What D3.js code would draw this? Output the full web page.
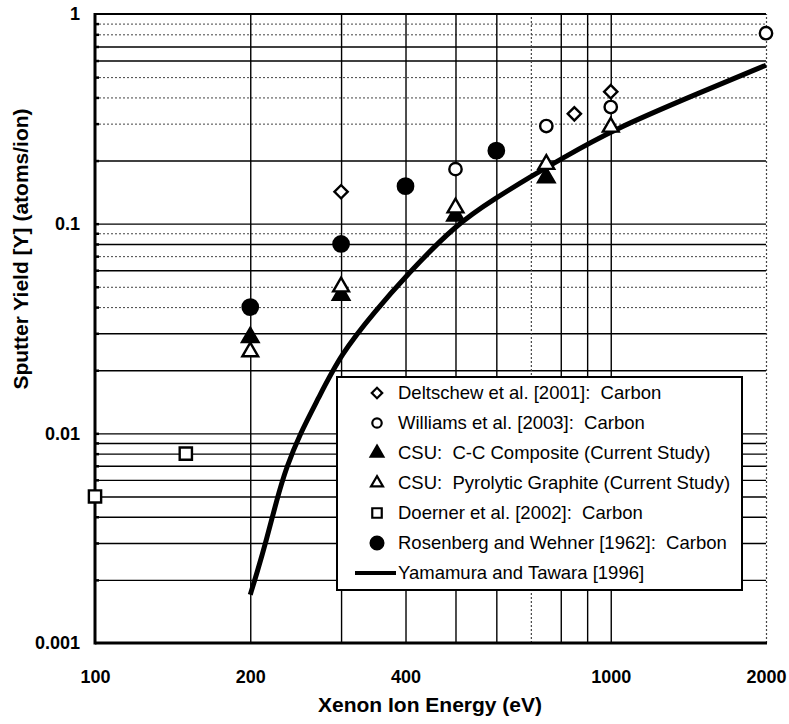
<!DOCTYPE html>
<html>
<head>
<meta charset="utf-8">
<script src="https://cdn.jsdelivr.net/npm/d3@7"></script>
<style>
  body { margin: 0; background: #fff; }
  svg { display: block; }
  text { font-family: Arial, "Liberation Sans", sans-serif; fill: #000; }
</style>
</head>
<body>
<svg id="chart"></svg>
<script>
// ---- data ----
const deltschewE = [300, 850, 1000];
const deltschewY = [0.142, 0.334, 0.426];
const williamsE = [500, 750, 1000, 2000];
const williamsY = [0.182, 0.292, 0.36, 0.81];
const csuCompositeE = [200, 300, 500, 750];
const csuCompositeY = [0.0287, 0.0457, 0.109, 0.166];
const csuGraphiteE = [200, 300, 500, 750, 1000];
const csuGraphiteY = [0.0245, 0.050, 0.119, 0.192, 0.289];
const doernerE = [100, 150];
const doernerY = [0.005, 0.008];
const rosenbergE = [200, 300, 400, 600];
const rosenbergY = [0.040, 0.080, 0.151, 0.223];
const yamamuraE = [200, 206, 215, 225, 235, 250, 270, 300, 350, 400, 500, 600, 700, 800, 1000, 1500, 2000];
const yamamuraY = [0.0017, 0.00215, 0.0031, 0.0048, 0.0069, 0.0100, 0.0144, 0.0240, 0.0385, 0.056, 0.099, 0.133, 0.168, 0.203, 0.278, 0.425, 0.57];

const xTickLabels = [100, 200, 400, 1000, 2000];
const yTickLabels = [0.001, 0.01, 0.1, 1];
const xGrid = [200, 300, 400, 500, 600, 700, 800, 900, 1000, 2000];
const xGridDotted = [700, 2000];
const yGrid = [0.002, 0.003, 0.004, 0.005, 0.006, 0.007, 0.008, 0.009, 0.01,
               0.02, 0.03, 0.04, 0.05, 0.06, 0.07, 0.08, 0.09, 0.1,
               0.2, 0.3, 0.4, 0.5, 0.6, 0.7, 0.8, 0.9];
const yGridDotted = [0.09, 0.07, 0.05, 0.04, 0.9, 0.8, 0.5, 0.4, 0.3];

const legendLabels = [
  "Deltschew et al. [2001]:  Carbon",
  "Williams et al. [2003]:  Carbon",
  "CSU:  C-C Composite (Current Study)",
  "CSU:  Pyrolytic Graphite (Current Study)",
  "Doerner et al. [2002]:  Carbon",
  "Rosenberg and Wehner [1962]:  Carbon",
  "Yamamura and Tawara [1996]"
];

// ---- layout ----
const width = 789, height = 724;
const x0 = 95, x1 = 766, y0 = 643, y1 = 14;

const svg = d3.select('#chart').attr('width', width).attr('height', height);
svg.append('rect').attr('width', width).attr('height', height).attr('fill', '#fff');

const x = d3.scaleLog().domain([100, 2000]).range([x0, x1]);
const y = d3.scaleLog().domain([0.001, 1]).range([y0, y1]);

// gridlines
function gridY(values, dotted) {
  const g = svg.append('g').attr('transform', `translate(${x0},0)`)
    .call(d3.axisLeft(y).tickValues(values).tickSize(-(x1 - x0)).tickFormat(''));
  g.select('.domain').remove();
  g.selectAll('line')
    .attr('stroke', dotted ? '#444' : '#000')
    .attr('stroke-width', dotted ? 1 : 1.4)
    .attr('stroke-dasharray', dotted ? '2,2' : null);
}
function gridX(values, dotted) {
  const g = svg.append('g').attr('transform', `translate(0,${y0})`)
    .call(d3.axisBottom(x).tickValues(values).tickSize(-(y0 - y1)).tickFormat(''));
  g.select('.domain').remove();
  g.selectAll('line')
    .attr('stroke', dotted ? '#444' : '#000')
    .attr('stroke-width', dotted ? 1.2 : 1.4)
    .attr('stroke-dasharray', dotted ? '2,2' : null);
}
gridY(yGrid.filter(v => !yGridDotted.includes(v)), false);
gridY(yGridDotted, true);
gridX(xGrid.filter(v => !xGridDotted.includes(v)), false);
gridX(xGridDotted, true);

// small inside ticks on the left spine
const tk = svg.append('g').attr('transform', `translate(${x0},0)`)
  .call(d3.axisRight(y).tickValues(yGrid).tickSize(4).tickFormat(''));
tk.select('.domain').remove();
tk.selectAll('line').attr('stroke', '#000').attr('stroke-width', 2.5);

// frame
svg.append('line').attr('x1', x0).attr('x2', x1).attr('y1', y1).attr('y2', y1)
  .attr('stroke', '#000').attr('stroke-width', 2.2);
svg.append('line').attr('x1', x0).attr('x2', x1 + 1).attr('y1', y0).attr('y2', y0)
  .attr('stroke', '#000').attr('stroke-width', 3);
svg.append('line').attr('x1', x0).attr('x2', x0).attr('y1', y1 - 1).attr('y2', y0 + 1.5)
  .attr('stroke', '#000').attr('stroke-width', 3);

// tick labels
const yAxis = svg.append('g').attr('transform', `translate(${x0},0)`)
  .call(d3.axisLeft(y).tickValues(yTickLabels).tickSize(0).tickPadding(15).tickFormat(d => String(d)));
yAxis.select('.domain').remove();
yAxis.selectAll('text').attr('font-size', 18).attr('font-weight', 'bold')
  .attr('font-family', 'Arial, "Liberation Sans", sans-serif');

const xAxis = svg.append('g').attr('transform', `translate(0,${y0})`)
  .call(d3.axisBottom(x).tickValues(xTickLabels).tickSize(0).tickPadding(27).tickFormat(d => String(d)));
xAxis.select('.domain').remove();
xAxis.selectAll('text').attr('font-size', 18).attr('font-weight', 'bold')
  .attr('font-family', 'Arial, "Liberation Sans", sans-serif');

// axis titles
svg.append('text').attr('x', 430).attr('y', 712).attr('text-anchor', 'middle')
  .attr('font-size', 21).attr('font-weight', 'bold').text('Xenon Ion Energy (eV)');
svg.append('text').attr('transform', 'translate(28,249) rotate(-90)').attr('text-anchor', 'middle')
  .attr('font-size', 21).attr('font-weight', 'bold').text('Sputter Yield [Y] (atoms/ion)');

// ---- series ----
const plot = svg.append('g');

const line = d3.line().x((d, i) => x(yamamuraE[i])).y(d => y(d)).curve(d3.curveBasis);
plot.append('path').attr('d', line(yamamuraY))
  .attr('fill', 'none').attr('stroke', '#000').attr('stroke-width', 5)
  .attr('stroke-linejoin', 'round');

const markers = [
  { type: d3.symbolSquare, size: 88, fill: '#fff', rot: 45, E: deltschewE, Y: deltschewY, lsize: 55 },
  { type: d3.symbolCircle, size: 120, fill: '#fff', rot: 0, E: williamsE, Y: williamsY, lsize: 70 },
  { type: d3.symbolTriangle, size: 118, fill: '#000', rot: 0, E: csuCompositeE, Y: csuCompositeY, lsize: 70 },
  { type: d3.symbolTriangle, size: 108, fill: '#fff', rot: 0, E: csuGraphiteE, Y: csuGraphiteY, lsize: 62 },
  { type: d3.symbolSquare, size: 150, fill: '#fff', rot: 0, E: doernerE, Y: doernerY, lsize: 90 },
  { type: d3.symbolCircle, size: 185, fill: '#000', rot: 0, E: rosenbergE, Y: rosenbergY, lsize: 130 }
];

// draw order: Doerner, Rosenberg, composite, graphite, Williams, Deltschew
[4, 5, 2, 3, 1, 0].forEach(k => {
  const m = markers[k];
  plot.selectAll(null).data(m.Y).enter().append('path')
    .attr('d', d3.symbol().type(m.type).size(m.size))
    .attr('transform', (d, i) => `translate(${x(m.E[i])},${y(d)}) rotate(${m.rot})`)
    .attr('fill', m.fill).attr('stroke', '#000').attr('stroke-width', 2.4);
});

// ---- legend ----
const lg = svg.append('g');
lg.append('rect').attr('x', 337).attr('y', 377).attr('width', 405).attr('height', 213)
  .attr('fill', '#fff').attr('stroke', '#000').attr('stroke-width', 2);

legendLabels.forEach((label, i) => {
  const cy = 393 + i * 30;
  if (i < markers.length) {
    const m = markers[i];
    lg.append('path').attr('d', d3.symbol().type(m.type).size(m.lsize))
      .attr('transform', `translate(377,${cy}) rotate(${m.rot})`)
      .attr('fill', m.fill).attr('stroke', '#000').attr('stroke-width', 2.2);
  } else {
    lg.append('line').attr('x1', 355).attr('x2', 396).attr('y1', cy).attr('y2', cy)
      .attr('stroke', '#000').attr('stroke-width', 4);
  }
  lg.append('text').attr('x', 398).attr('y', cy).attr('dy', '0.35em')
    .attr('font-size', 18.5).style('white-space', 'pre').text(label);
});
</script>
</body>
</html>
